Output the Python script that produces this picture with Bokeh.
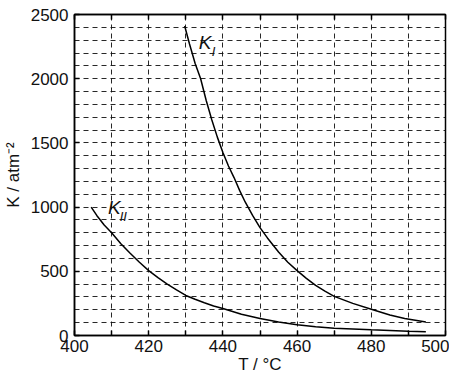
from bokeh.plotting import figure
from bokeh.models import FixedTicker, LinearAxis, Label, Range1d
from bokeh.embed import file_html
from bokeh.resources import INLINE

# Data
KI_T = [429.7, 431, 432.5, 434, 435.5, 437, 438.5, 440, 441.5, 443, 444.5, 446, 448, 450, 452, 455, 457.5,
        460, 462.5, 465, 467.5, 470, 475, 480, 485, 489, 494.7]
KI_K = [2410, 2270, 2120, 2000, 1830, 1680, 1545, 1425, 1320, 1230, 1130, 1040, 935, 840, 760, 650, 570,
        505, 445, 390, 345, 305, 250, 205, 160, 132, 105]
KII_T = [404.5, 406, 408, 410, 412.5, 415, 417.5, 420, 422.5, 425, 427.5, 430, 432.5, 435, 437.5, 440,
         445, 450, 455, 460, 465, 470, 480, 490, 494.7]
KII_K = [1000, 935, 860, 800, 715, 640, 570, 505, 450, 400, 355, 312, 282, 255, 230, 210,
         165, 132, 105, 83, 69, 57, 44, 33, 29]

X_TICKS = list(range(400, 501, 10))
X_LABELS = {t: (str(t) if t % 20 == 0 else "") for t in X_TICKS}
Y_TICKS = [0, 500, 1000, 1500, 2000, 2500]
X_GRID = list(range(410, 500, 10))
Y_GRID = list(range(100, 2500, 100))

FONT = "Liberation Sans"
INK = "#111111"
W, H = 449, 367

p = figure(width=W, height=H, output_backend="svg", toolbar_location=None,
           x_range=Range1d(400, 500), y_range=Range1d(0, 2500),
           frame_width=371, frame_height=321,
           min_border_left=74, min_border_right=4, min_border_top=14, min_border_bottom=32,
           x_axis_label="T / °C", y_axis_label="K / atm⁻²")
p.background_fill_color = "white"
p.border_fill_color = "white"
p.outline_line_color = "black"
p.outline_line_width = 1.5

# grids
p.xgrid.ticker = FixedTicker(ticks=X_GRID)
p.ygrid.ticker = FixedTicker(ticks=Y_GRID)
for g in (p.xgrid, p.ygrid):
    g.grid_line_color = INK
    g.grid_line_width = 1
    g.grid_line_dash = "5 4"
    g.grid_line_alpha = 0.9

# axes
xa = p.xaxis[0]
xa.ticker = FixedTicker(ticks=X_TICKS)
xa.major_label_overrides = X_LABELS
ya = p.yaxis[0]
ya.ticker = FixedTicker(ticks=Y_TICKS)
for ax in (xa, ya):
    ax.axis_line_color = "black"
    ax.axis_line_width = 1.5
    ax.major_tick_in = 5
    ax.major_tick_out = 0
    ax.major_tick_line_width = 1.5
    ax.minor_tick_in = 0
    ax.minor_tick_out = 0
    ax.major_label_text_font = FONT
    ax.major_label_text_font_size = "17px"
    ax.major_label_text_color = INK
    ax.axis_label_text_font = FONT
    ax.axis_label_text_font_size = "17px"
    ax.axis_label_text_font_style = "normal"
    ax.axis_label_text_color = INK
xa.major_label_standoff = 4
ya.major_label_standoff = 6
xa.axis_label_standoff = 0
ya.axis_label_standoff = 5

top = LinearAxis(ticker=FixedTicker(ticks=X_TICKS), major_label_text_font_size="0px",
                 major_tick_in=5, major_tick_out=0, minor_tick_in=0, minor_tick_out=0,
                 axis_line_color="black", axis_line_width=1.5, major_tick_line_width=1.5)
top.major_label_overrides = {t: "" for t in X_TICKS}
p.add_layout(top, "above")

# curves
p.line(KI_T, KI_K, line_color="black", line_width=1.5)
p.line(KII_T, KII_K, line_color="black", line_width=1.5)

# curve labels
p.add_layout(Label(x=433.5, y=2204, text="K", text_font=FONT, text_font_size="19px",
                   text_font_style="italic", text_color=INK))
p.add_layout(Label(x=437.0, y=2150, text="I", text_font=FONT, text_font_size="13px",
                   text_font_style="italic", text_color=INK))
p.add_layout(Label(x=409.0, y=919, text="K", text_font=FONT, text_font_size="19px",
                   text_font_style="italic", text_color=INK))
p.add_layout(Label(x=412.2, y=868, text="II", text_font=FONT, text_font_size="13px",
                   text_font_style="italic", text_color=INK))

# text of the page above the chart
p.add_layout(Label(x=-6, y=H - 7, x_units="screen", y_units="screen",
                   text="SO₂. O gráfico traz a variação dessas co",
                   text_font=FONT, text_font_size="10px", text_color=INK,
                   text_baseline="alphabetic"))

open("out.html", "w").write(file_html(p, INLINE))
